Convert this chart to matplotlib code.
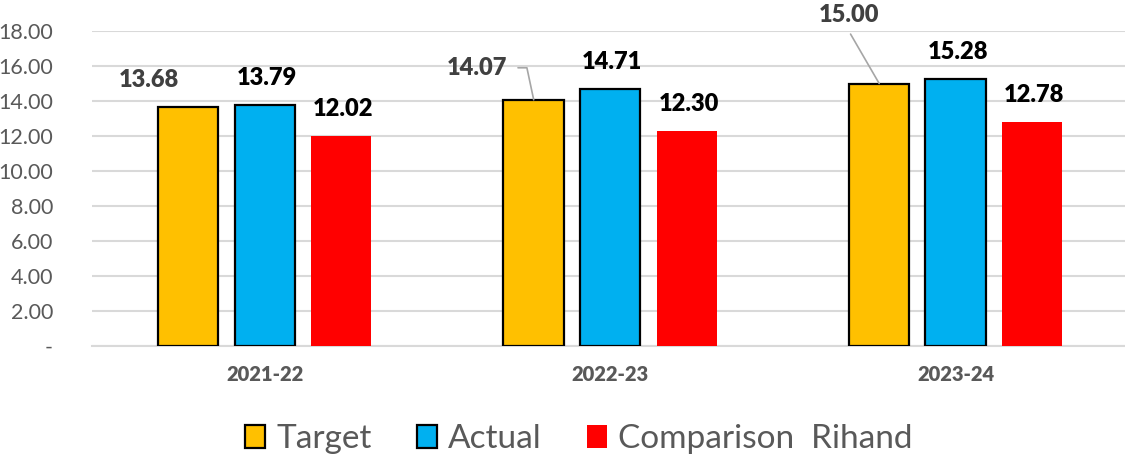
import matplotlib
matplotlib.use("Agg")
import matplotlib.pyplot as plt
from matplotlib.patches import Patch
import numpy as np

plt.rcParams['font.family'] = ['Lato', 'DejaVu Sans']

categories = ["2021-22", "2022-23", "2023-24"]
series_names = ["Target", "Actual", "Comparison  Rihand"]
target = [13.68, 14.07, 15.00]
actual = [13.79, 14.71, 15.28]
rihand = [12.02, 12.30, 12.78]
y_ticks = [0, 2, 4, 6, 8, 10, 12, 14, 16, 18]
y_tick_labels = ["-", "2.00", "4.00", "6.00", "8.00", "10.00", "12.00", "14.00", "16.00", "18.00"]

colors = ["#FFC000", "#00B0F0", "#FF0000"]
edges = ["black", "black", "none"]
label_colors = ["#404040", "black", "black"]
# label offsets in pixels (dx, dy) from bar top centre
target_offsets = [(-39, 27), (-57, 32), (-30, 68)]
other_offset = (2, 27)

fig = plt.figure(figsize=(11.25, 4.58), dpi=100)
ax = fig.add_axes([92 / 1125, 1 - 346 / 458, 1 - 92 / 1125, (346 - 31) / 458])

x = np.arange(len(categories))
width = 0.175
step = 0.2215
all_series = [target, actual, rihand]
for i, vals in enumerate(all_series):
    xs = x + (i - 1) * step
    ax.bar(xs, vals, width=width, color=colors[i], edgecolor=edges[i],
           linewidth=1.6 if edges[i] != "none" else 0, zorder=3)
    for j, (xx, v) in enumerate(zip(xs, vals)):
        if i == 0:
            dx, dy = target_offsets[j]
        else:
            dx, dy = other_offset
        kw = {}
        if i == 0 and j == 1:
            kw = dict(arrowprops=dict(arrowstyle='-', color='#a6a6a6', lw=1.2,
                                      shrinkA=6, shrinkB=0, relpos=(1, 0.5),
                                      connectionstyle='angle,angleA=0,angleB=-78,rad=0'))
        elif i == 0 and j == 2:
            kw = dict(arrowprops=dict(arrowstyle='-', color='#a6a6a6', lw=1.2,
                                      shrinkA=4, shrinkB=0, relpos=(0.45, 0)))
        ax.annotate(f"{v:.2f}", xy=(xx, v), xytext=(dx, dy),
                    textcoords='offset pixels', ha='center', va='center',
                    fontsize=17, fontweight='heavy', color=label_colors[i],
                    zorder=5, **kw)

ax.set_xlim(-0.5, 2.49)
ax.set_ylim(0, 18)
ax.set_yticks(y_ticks)
ax.set_yticklabels(y_tick_labels, fontsize=15.5, color="#595959")
ax.set_xticks(x)
ax.set_xticklabels(categories, fontsize=14.5, fontweight='heavy', color="#595959")
ax.tick_params(axis='both', length=0)
ax.tick_params(axis='x', pad=14)
ax.tick_params(axis='y', pad=28)
for lab in ax.get_yticklabels():
    lab.set_horizontalalignment('right')
ax.grid(axis='y', color='#d9d9d9', linewidth=1.5, zorder=0)
for s in ['top', 'right', 'left']:
    ax.spines[s].set_visible(False)
ax.spines['bottom'].set_color('#d9d9d9')
ax.spines['bottom'].set_linewidth(1.5)

handles = [Patch(facecolor=colors[i], edgecolor=edges[i], linewidth=1.6 if edges[i] != "none" else 0,
                 label=series_names[i]) for i in range(3)]
fig.legend(handles=handles, loc='center', bbox_to_anchor=(579 / 1125, 1 - 439 / 458),
           ncol=3, frameon=False, fontsize=24, labelcolor="#595959",
           handlelength=0.6, handleheight=0.67, handletextpad=0.33, columnspacing=1.36,
           borderpad=0.2)

fig.savefig("out.png", dpi=100)
